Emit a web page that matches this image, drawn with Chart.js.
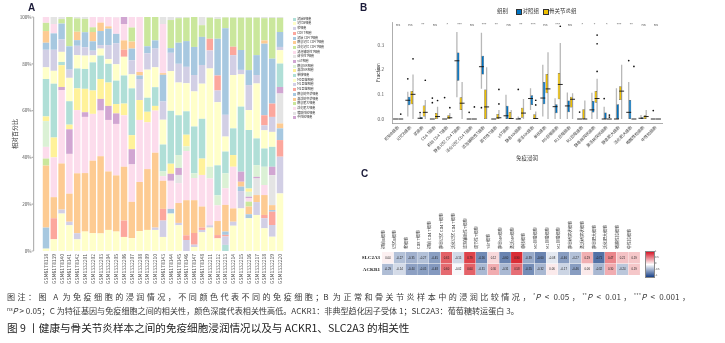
<!DOCTYPE html>
<html><head><meta charset="utf-8">
<script src="https://cdn.jsdelivr.net/npm/chart.js@4.4.1/dist/chart.umd.min.js"></script>
<style>
html,body{margin:0;padding:0;background:#fff;}
body{width:725px;height:343px;position:relative;overflow:hidden;font-family:'Noto Sans CJK SC','Liberation Sans',sans-serif;}
canvas{position:absolute;}
.lbl{position:absolute;font-weight:bold;font-size:10px;color:#1c1c3a;font-family:'Liberation Sans',sans-serif;line-height:1;}
#legA{position:absolute;left:293px;top:17.8px;width:60px;height:110px;}
#legA div{position:absolute;left:0;white-space:nowrap;font-size:3px;line-height:3px;color:#333;}
#legA span{display:inline-block;width:3px;height:3px;vertical-align:top;margin-right:1.3px;}
.legB{position:absolute;top:8px;font-size:5.5px;line-height:6px;color:#333;white-space:nowrap;}
.sq{position:absolute;top:8.5px;width:4px;height:4px;border:0.5px solid #333;}
.cap{position:absolute;left:7px;white-space:nowrap;color:#3a3a3a;font-size:8.1px;line-height:10px;}
.cap sup{font-size:5.2px;vertical-align:3px;line-height:0;}
#cbar{position:absolute;left:645px;top:251px;width:8px;height:25px;background:linear-gradient(to bottom,#d7192a,#ffffff,#194187);border:0.3px solid #888;}
.cbl{position:absolute;left:655px;font-size:2.6px;line-height:3px;color:#444;}
</style></head><body>
<canvas id="cA" width="292" height="295" style="left:0;top:0"></canvas>
<canvas id="cB" width="365" height="165" style="left:360px;top:0"></canvas>
<canvas id="cC" width="290" height="80" style="left:360px;top:200px"></canvas>
<div class="lbl" style="left:28px;top:3px">A</div>
<div class="lbl" style="left:360px;top:3px">B</div>
<div class="lbl" style="left:361px;top:169px">C</div>
<div id="legA"></div>
<div class="legB" style="left:497px">组别</div>
<div class="sq" style="left:516px;background:#0073C2"></div>
<div class="legB" style="left:522.5px">对照组</div>
<div class="sq" style="left:542.5px;background:#EFC000"></div>
<div class="legB" style="left:549px">骨关节炎组</div>
<div id="cbar"></div>
<div class="cbl" style="top:250px">1</div>
<div class="cbl" style="top:256px">0.5</div>
<div class="cbl" style="top:262px">0</div>
<div class="cbl" style="top:268px">-0.5</div>
<div class="cbl" style="top:274px">-1</div>
<div class="cap" style="top:292px;width:683px;text-align:justify;text-align-last:justify;">图注：图 A 为免疫细胞的浸润情况，不同颜色代表不同的免疫细胞；B 为正常和骨关节炎样本中的浸润比较情况，<sup>*</sup><i>P</i> &lt; 0.05，<sup>**</sup><i>P</i> &lt; 0.01，<sup>***</sup><i>P</i> &lt; 0.001，</div>
<div class="cap" style="top:306px"><sup>ns</sup><i>P</i> &gt; 0.05；C 为特征基因与免疫细胞之间的相关性，颜色深度代表相关性高低。ACKR1：非典型趋化因子受体 1；SLC2A3：葡萄糖转运蛋白 3。</div>
<div class="cap" style="top:321px;font-size:10.6px;line-height:13px;color:#222;">图 9 丨健康与骨关节炎样本之间的免疫细胞浸润情况以及与 ACKR1、SLC2A3 的相关性</div>
<script>
// ---------- categories ----------
const samples = ['GSM6178138','GSM6178139','GSM6178140','GSM6178141','GSM6178142','GSM1332201','GSM1332202','GSM1332203','GSM1332204','GSM1332205','GSM1332206','GSM1332207','GSM1332208','GSM1332209','GSM1332210','GSM6178143','GSM6178144','GSM6178145','GSM6178146','GSM6178147','GSM6178148','GSM1332211','GSM1332212','GSM1332213','GSM1332214','GSM1332215','GSM1332216','GSM1332217','GSM1332218','GSM1332219','GSM1332220'];
const cellTypes = ['初始B细胞','记忆B细胞','浆细胞','CD8 T细胞','初始 CD4 T细胞','静息记忆 CD4 T细胞','活化记忆 CD4 T细胞','滤泡辅助性T细胞','调节性T细胞','γδT细胞','静息NK细胞','激活NK细胞','单核细胞','M0巨噬细胞','M1巨噬细胞','M2巨噬细胞','静息树突状细胞','激活树突状细胞','静息肥大细胞','活化肥大细胞','嗜酸性粒细胞','中性粒细胞'];

// ---------- panel A: relative percentage per sample (%) ----------
const naiveB     = [0,0,0,0,0, 0,0,0,0,0, 0,0,0,0,0, 0,0,0,0,0, 0,0,0,2.6,0, 0,0,0,0,0, 0];
const memoryB    = [1,5,16,11,5, 8.3,7.6,7.5,9,8.3, 6,5.5,8.5,9,9, 6,16,11,0,1.7, 8,10,5.4,0,10.8, 18.2,14,15.4,9.7,6.1, 24.6];
const plasma     = [0,0,1.7,1.5,2.6, 0,0,0,0,0, 0,0,0,0,1, 7,0,1,4.7,1, 1,1,0,3.6,1.7, 7.4,0,5.5,4.3,5, 15.7];
const cd8T       = [0,9,0,0,0, 0,0,0,0,0, 7,0,0,0,0, 5,0,0,2,5, 1,0,1.4,0.7,0, 0,0,0,1.4,5.7, 7.1];
const naiveCD4   = [9,0,0,0,0, 0,0,0,0,0, 0,0,0,0,0, 0,2,0,0,0, 0,0,0,1.4,0, 1.9,1.7,0,0,0.7, 5];
const restMemCD4 = [26.5,9,19.7,12,25.6, 25,31,33,25,24, 23,15.5,21,26,32, 12,0,8.5,15,14, 9,0,6,11.4,5.7, 2.1,3.3,3,8.5,2.1, 2.1];
const actMemCD4  = [3,0,0,0,0, 0,0,0,0,0, 0,0,0,0,0, 0,0,0,0,0, 0,0,0,0,0, 0,2.1,0,0,0, 0];
const tfh        = [5,17,31.3,17,27, 24,20,19.5,22,22, 22,16,26.5,20,18, 2,12,8.5,21,9.5, 13.5,20,6.7,7.1,17.8, 0,1.4,0,4.3,0, 0];
const treg       = [0,0,0,0,0, 0,0,0,0,0, 0,0,0,0,0, 0,0,3.5,0,0, 0,0,0,0,0, 0,0,7.1,0,12.8, 12.8];
const gdT        = [0,0,1.4,10.5,0, 2,0,5,6,4.5, 0,6.5,0,0,0, 0,3,3,0,0, 0,0,0,0,0, 4.3,0.7,0.7,0,3.6, 2.8];
const restNK     = [11,0,0,0,0, 0,0,0,0,0, 0,0,0,0,0, 2,0,5.5,2,2, 0,5,4.3,6.4,0, 0,2.1,5,7.8,0, 0];
const actNK      = [2,8.5,9.3,2,9.3, 10,10,8.5,10,4, 5,6,8.5,4.5,2, 0,4.3,0,5,0, 7,0,0,0,5, 0,1.4,0,0,0, 0];
const monocyte   = [16,23,1.4,10,8.5, 8.5,12,10,8,10, 12,20,0,6,8, 11.5,22.6,17,10,20, 17,0,12.8,9.3,11.4, 27.8,25,11.4,7.8,8.5, 10];
const macroM0    = [5,5.5,4.3,10,5.7, 5.7,3,3,2,7, 8,6,0,12,8.5, 10.6,17,14,12,15, 15,42,27,6.4,22.8, 13.8,8.5,23.5,7.8,6.4, 5.7];
const macroM1    = [7.5,9,5.3,3.5,4, 3.6,2,1.5,6,9, 0,6,9,7,8, 7.8,7.8,8,7,7, 8,7.7,5,9.3,8.5, 1.9,10.7,3.6,2.1,6.4, 1.4];
const macroM2    = [0,0,0,0,0, 0,0,0,0,0, 3,0,0,0,0, 0,0,0,0,0, 0,5,6.4,0,3.6, 0,0,0,4.3,5.7, 0];
const restDC     = [3,7,6.8,10,2.4, 6.4,4,6,7,4, 0,5,1.5,3,3.5, 11.4,2,9,11,12, 12,0,15.7,37,0, 8.5,6.4,8.5,30.6,19.2, 6.4];
const actDC      = [5,0,0,0,3.6, 0,4,3.6,1,0, 4,3,1.5,0,0, 0.7,0,0,0,0, 0,0,0,0,0, 0,0,0,1.4,0, 0];
const restMast   = [3.5,0,1.9,12.5,5.7, 5.7,2,0,0,0, 0,6,0,12.5,10, 0,12,10.5,10,12.8, 5,9,8.5,4.6,12.4, 13.8,22.4,16,9.5,17.4, 6];
const actMast    = [2.5,4,0,0,0, 0,4.4,2.4,4,7, 7,4.5,23.5,0,0, 21,0,0,0,0, 0,0,0,0,0, 0,0,0,0,0, 0];
const eosinophil = [0,3,0.9,0,0.6, 0.8,0,0,0,0.2, 0,0,0,0,0, 3,1.3,0.5,0.3,0, 3.5,0.3,0.8,0.2,0.3, 0.3,0.3,0.3,0.5,0.4, 0.4];
const neutrophil = [0,0,0,0,0, 0,0,0,0,0, 3,0,0,0,0, 0,0,0,0,0, 0,0,0,0,0, 0,0,0,0,0, 0];
const percentTicks = [0,20,40,60,80,100];

// ---------- panel B: box statistics [min, q1, median, q3, max] ----------
const ctrlStats = [[0,0,0,0,0],[0.01,0.056,0.076,0.09,0.11],[0,0,0.003,0.008,0.02],[0,0,0,0,0],[0,0,0,0,0],[0.088,0.155,0.236,0.27,0.353],[0,0,0,0,0],[0.123,0.18,0.212,0.256,0.35],[0,0,0,0,0],[0,0,0.013,0.054,0.098],[0,0,0,0.005,0.01],[0.037,0.057,0.083,0.096,0.125],[0.01,0.06,0.085,0.15,0.22],[0,0.023,0.05,0.06,0.084],[0,0.027,0.053,0.075,0.107],[0,0,0,0,0],[0,0.026,0.037,0.073,0.106],[0,0,0,0.026,0.05],[0,0,0,0.06,0.125],[0,0,0.027,0.077,0.15],[0,0,0.003,0.007,0.016],[0,0,0,0,0]];
const oaStats   = [[0,0,0,0,0],[0,0.06,0.1,0.114,0.18],[0,0.01,0.027,0.055,0.077],[0,0,0.01,0.024,0.05],[0,0,0.005,0.015,0.024],[0,0.036,0.064,0.088,0.15],[0,0,0,0,0],[0,0,0.049,0.12,0.21],[0,0,0.005,0.02,0.036],[0,0,0.002,0.028,0.036],[0,0.005,0.024,0.046,0.081],[0,0,0.002,0.019,0.03],[0,0.104,0.122,0.182,0.271],[0,0.08,0.14,0.186,0.308],[0,0.047,0.08,0.09,0.104],[0,0,0,0.04,0.075],[0,0.066,0.083,0.114,0.163],[0,0,0,0,0],[0,0.077,0.113,0.133,0.22],[0,0,0,0,0],[0,0,0.01,0.015,0.036],[0,0,0,0,0]];
const ctrlOutliers = [[],[0.163],[0.026],[0.085,0.066],[0.087],[],[0.027],[0.046],[],[],[0.12],[],[],[],[],[0.028],[],[0.083],[],[0.237],[],[0.034]];
const oaOutliers   = [[0.02],[0.244],[0.157],[0.075],[0.046],[],[0.049],[],[0.12,0.061],[],[],[0.076,0.057],[],[0.376],[],[],[0.193,0.305,0.34],[0.016,0.008],[],[0.213],[],[]];
const sigLabels = ['ns','ns','**','ns','*','***','ns','***','**','ns','**','***','ns','***','ns','*','*','*','***','**','ns','ns'];
const fractionTicks = [0,0.1,0.2,0.3];

// ---------- panel C: correlations ----------
const genes = ['SLC2A3','ACKR1'];
const corSLC2A3 = [0.04,-0.27,-0.35,-0.27,-0.45,0.65,-0.15,0.79,-0.56,0.12,-0.60,0.90,-0.39,-0.60,-0.08,-0.46,-0.27,0.29,-0.71,0.47,0.21,0.19];
const corACKR1  = [-0.29,-0.14,-0.44,-0.45,-0.48,0.60,-0.02,0.64,-0.31,0.30,-0.31,0.58,-0.55,-0.32,0.06,-0.17,-0.46,0.06,-0.32,0.30,-0.24,0.19];

// ---------- styles ----------
const paletteA = ['#b0dfd7','#ffffca','#d2cfe5','#fca79d','#a7c8e0','#fdcb92','#cae79c','#fcdcec','#e4e4e4','#d1a6d2','#dbf1d5','#fff29a','#b0dfd7','#ffffca','#d2cfe5','#fca79d','#a7c8e0','#fdcb92','#cae79c','#fcdcec','#e4e4e4','#d1a6d2'];
const seriesA = [naiveB,memoryB,plasma,cd8T,naiveCD4,restMemCD4,actMemCD4,tfh,treg,gdT,restNK,actNK,monocyte,macroM0,macroM1,macroM2,restDC,actDC,restMast,actMast,eosinophil,neutrophil];
Chart.defaults.font.family = "'Noto Sans CJK SC','Liberation Sans',sans-serif";
Chart.defaults.color = '#444';

// legend A (html)
const legA = document.getElementById('legA');
cellTypes.forEach((n,k)=>{ const d=document.createElement('div'); d.style.top=(k*4.69)+'px'; d.innerHTML='<span style="background:'+paletteA[k]+'"></span>'+n; legA.appendChild(d); });

const axisLineA = { id:'axisLineA', afterDraw(chart){ const {ctx,chartArea,scales:{y}}=chart; const x=chartArea.left-8.5; ctx.save(); ctx.strokeStyle='#b3b3b3'; ctx.lineWidth=1.2; ctx.beginPath(); ctx.moveTo(x,y.getPixelForValue(100)); ctx.lineTo(x,y.getPixelForValue(0)); percentTicks.forEach(v=>{ctx.moveTo(x-2,y.getPixelForValue(v)); ctx.lineTo(x,y.getPixelForValue(v));}); ctx.stroke(); ctx.restore(); } };

new Chart(document.getElementById('cA'), {
  type:'bar',
  data:{ labels:samples, datasets: seriesA.map((d,k)=>({label:cellTypes[k], data:d, backgroundColor:paletteA[k], borderWidth:0, barPercentage:0.83, categoryPercentage:1})) },
  options:{ responsive:false, animation:false, devicePixelRatio:1,
    layout:{padding:{top:17,right:8.1,left:0,bottom:0}},
    plugins:{legend:{display:false}, tooltip:{enabled:false}},
    scales:{
      x:{stacked:true, grid:{display:false,drawTicks:false}, border:{display:false},
         ticks:{autoSkip:false,minRotation:90,maxRotation:90,padding:3,font:{size:5},color:'#555'},
         afterFit:s=>{s.height=44;}},
      y:{stacked:true, min:0, max:100, grid:{display:false,drawTicks:false}, border:{display:false},
         afterBuildTicks:s=>{s.ticks=percentTicks.map(v=>({value:v}));},
         ticks:{padding:10.5,font:{size:4.6},color:'#555',callback:v=>v+'%'},
         title:{display:true,text:'相对百分比',font:{size:6},color:'#333',padding:{top:11.4,bottom:0}},
         afterFit:s=>{s.width=42.1;}}
    }
  },
  plugins:[axisLineA]
});

// panel B
const offs=[-0.2125,0.2125];
const whiskerPts=[], medianPts=[], outlierPts=[];
[ctrlStats,oaStats].forEach((stats,s)=>stats.forEach((st,i)=>{ const cx=i+offs[s];
  whiskerPts.push({x:cx,y:st[0]},{x:cx,y:st[4]},{x:cx,y:null});
  medianPts.push({x:cx-0.2,y:st[2]},{x:cx+0.2,y:st[2]},{x:cx,y:null}); }));
[ctrlOutliers,oaOutliers].forEach((outs,s)=>outs.forEach((arr,i)=>arr.forEach(v=>outlierPts.push({x:i+offs[s],y:v}))));
const sigPlugin={id:'sig',afterDatasetsDraw(chart){const {ctx,scales:{x,y}}=chart; ctx.save(); ctx.font="4px 'Liberation Sans'"; ctx.fillStyle='#555'; ctx.textAlign='center'; ctx.textBaseline='middle'; sigLabels.forEach((s,i)=>ctx.fillText(s,x.getPixelForValue(i),y.getPixelForValue(0.38))); ctx.restore();}};
new Chart(document.getElementById('cB'), {
  type:'bar',
  data:{ labels:cellTypes, datasets:[
    {type:'line', xAxisID:'x2', data:whiskerPts, borderColor:'#b8b8b8', borderWidth:1.3, pointRadius:0, spanGaps:false, order:10},
    {type:'bar', label:'对照组', data:ctrlStats.map(s=>[s[1],s[3]]), backgroundColor:'#0073C2', borderColor:'#3d3d3d', borderWidth:0.5, borderSkipped:false, categoryPercentage:0.85, barPercentage:0.95, order:5},
    {type:'bar', label:'骨关节炎组', data:oaStats.map(s=>[s[1],s[3]]), backgroundColor:'#EFC000', borderColor:'#3d3d3d', borderWidth:0.5, borderSkipped:false, categoryPercentage:0.85, barPercentage:0.95, order:5},
    {type:'line', xAxisID:'x2', data:medianPts, borderColor:'#111', borderWidth:0.9, pointRadius:0, spanGaps:false, order:1},
    {type:'scatter', xAxisID:'x2', data:outlierPts, backgroundColor:'#111', borderWidth:0, pointRadius:0.85, order:0}
  ]},
  options:{ responsive:false, animation:false, devicePixelRatio:1,
    layout:{padding:{top:22,right:63,left:0,bottom:0}},
    plugins:{legend:{display:false}, tooltip:{enabled:false}},
    scales:{
      x:{type:'category', offset:true, grid:{display:false,drawTicks:false}, border:{display:true,color:'#999',width:0.8},
         ticks:{autoSkip:false,minRotation:45,maxRotation:45,padding:2,font:{size:4},color:'#444'},
         title:{display:true,text:'免疫浸润',font:{size:5.5},color:'#333',padding:{top:0,bottom:3.7}},
         afterFit:s=>{s.height=42;}},
      x2:{type:'linear', min:-0.5, max:21.5, offset:false, grid:{offset:false}, display:false},
      y:{min:-0.0162, max:0.3932, grid:{display:false,drawTicks:false}, border:{display:true,color:'#999',width:0.8},
         afterBuildTicks:s=>{s.ticks=fractionTicks.map(v=>({value:v}));},
         ticks:{padding:8,font:{size:4.6},color:'#555',callback:v=>Number(v).toFixed(1)},
         title:{display:true,text:'Fraction',font:{size:5},color:'#333',padding:{top:15,bottom:0}},
         afterFit:s=>{s.width=32;}}
    }
  },
  plugins:[sigPlugin]
});

// panel C
function corColor(v){ const t=Math.pow(Math.min(1,Math.abs(v)),0.85); const e=v<0?[25,65,135]:[215,25,35]; return 'rgb('+e.map(c=>Math.round(255+(c-255)*t)).join(',')+')'; }
const cellText={id:'cellText',afterDatasetsDraw(chart){const {ctx}=chart; ctx.save(); ctx.font="2.8px 'Liberation Sans'"; ctx.textAlign='center'; ctx.textBaseline='middle'; ctx.fillStyle='#222';
  chart.data.datasets.forEach((ds,di)=>{ chart.getDatasetMeta(di).data.forEach((el,i)=>{ ctx.fillText(ds.corr[i].toFixed(2),el.x,(el.y+el.base)/2); }); }); ctx.restore();}};
new Chart(document.getElementById('cC'), {
  type:'bar',
  data:{ labels:cellTypes, datasets:[
    {label:genes[0], corr:corSLC2A3, data:corSLC2A3.map(()=>[1,2]), backgroundColor:corSLC2A3.map(corColor), borderColor:'#fff', borderWidth:0.4, borderSkipped:false, grouped:false, barPercentage:1, categoryPercentage:1},
    {label:genes[1], corr:corACKR1, data:corACKR1.map(()=>[0,1]), backgroundColor:corACKR1.map(corColor), borderColor:'#fff', borderWidth:0.4, borderSkipped:false, grouped:false, barPercentage:1, categoryPercentage:1}
  ]},
  options:{ responsive:false, animation:false, devicePixelRatio:1,
    layout:{padding:{top:0,right:10,left:0,bottom:5}},
    plugins:{legend:{display:false}, tooltip:{enabled:false}},
    scales:{
      x:{position:'top', grid:{display:false,drawTicks:false}, border:{display:false},
         ticks:{autoSkip:false,minRotation:90,maxRotation:90,padding:3,font:{size:4},color:'#333'},
         afterFit:s=>{s.height=52;}},
      y:{min:0,max:2, grid:{display:false,drawTicks:false}, border:{display:false},
         afterBuildTicks:s=>{s.ticks=[{value:1.5},{value:0.5}];},
         ticks:{padding:2,font:{size:5,family:"'Liberation Serif',serif",weight:'bold'},color:'#222',callback:v=>v>1?genes[0]:genes[1]},
         afterFit:s=>{s.width=22;}}
    }
  },
  plugins:[cellText]
});
</script>
</body></html>
